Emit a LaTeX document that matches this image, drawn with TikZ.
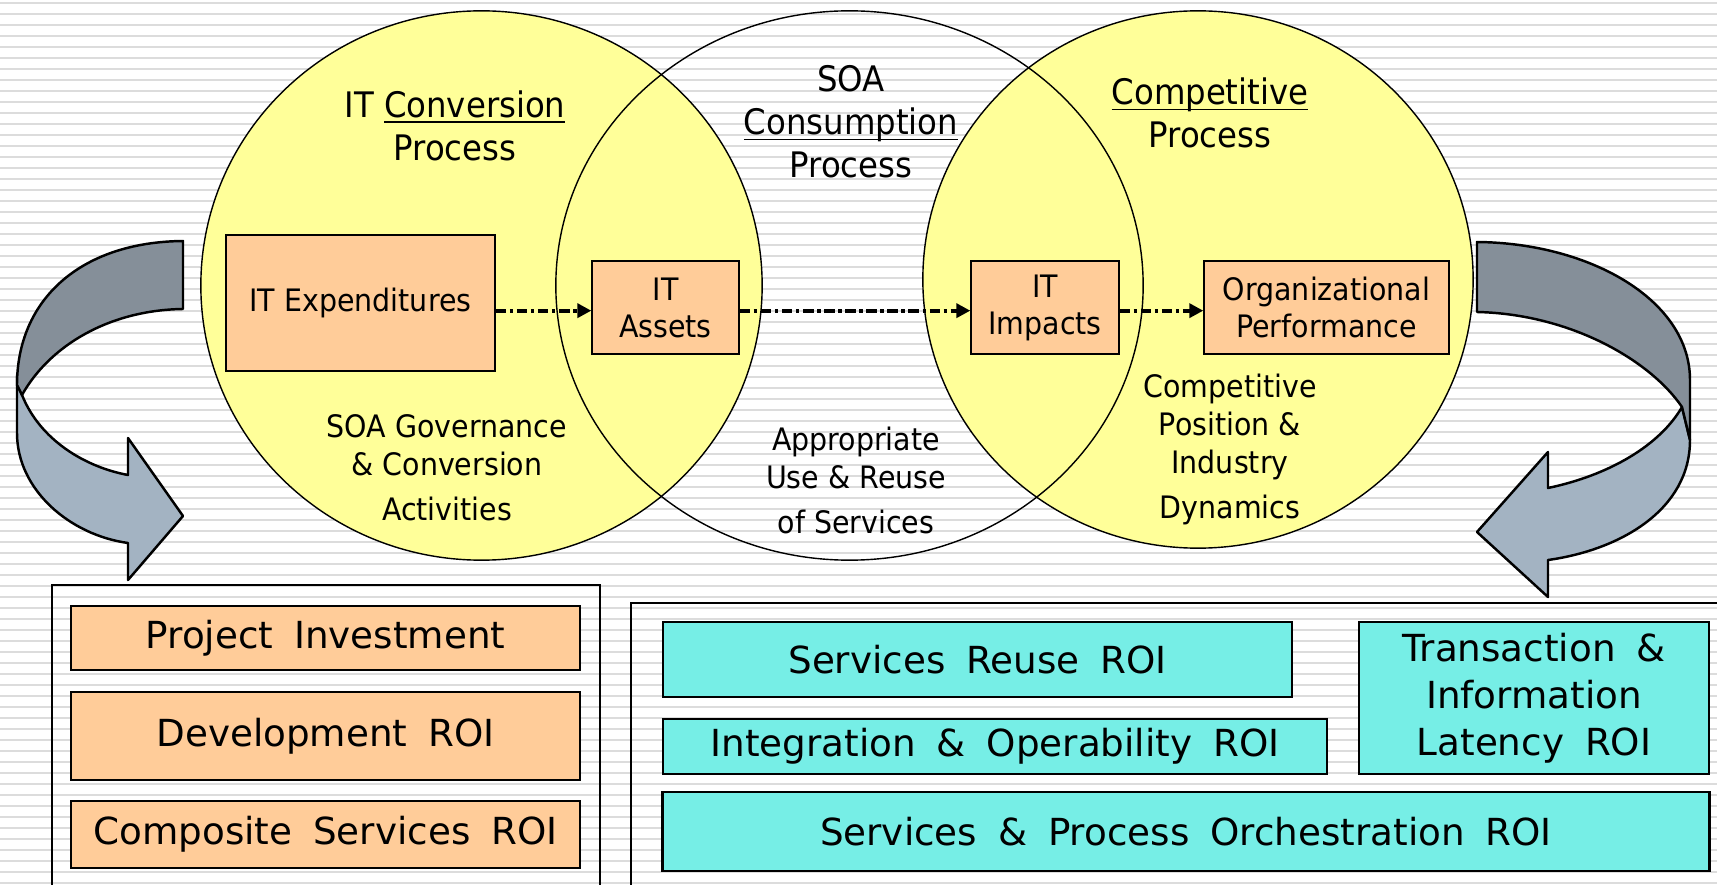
\documentclass[tikz,border=0pt]{standalone}
\usepackage{fontspec}
\usepackage{xcolor}
\usepackage{tikz}
\usetikzlibrary{arrows.meta}

\setmainfont{DejaVu Sans}
\newfontfamily\narrowfont[FakeStretch=0.92]{DejaVu Sans}

\definecolor{venn}{RGB}{255,255,153}
\definecolor{peach}{RGB}{255,204,153}
\definecolor{aqua}{RGB}{118,238,230}
\definecolor{ruling}{RGB}{220,220,220}
\definecolor{ribbondark}{RGB}{133,143,153}
\definecolor{ribbonlight}{RGB}{163,179,194}

\newcommand{\titlefont}{\narrowfont\fontsize{10}{12.2}\selectfont}
\newcommand{\boxfont}{\narrowfont\fontsize{8.8}{10.5}\selectfont}
\newcommand{\notefont}{\narrowfont\fontsize{8.8}{10.8}\selectfont}
\newcommand{\roifont}{\fontsize{10.6}{13.4}\selectfont\spaceskip=0.56em\relax}
% underline close to the baseline, ignoring descenders
\newcommand{\keyword}[1]{\underline{\smash{#1}}}

\begin{document}
\begin{tikzpicture}[x=0.01cm,y=-0.01cm,
    vennline/.style={draw=black,line width=0.4pt},
    item/.style={draw=black,fill=peach,line width=0.35pt,inner sep=0pt,align=center,font=\boxfont},
    roi/.style={draw=black,line width=0.7pt,inner sep=0pt,align=center,font=\roifont},
    panel/.style={draw=black,line width=0.7pt},
    flow/.style={line width=1.05pt,dash pattern=on 3pt off 1pt on 1pt off 1pt,
      -{Triangle[length=4pt,width=4pt]}},
    ribbon/.style={draw=black,line width=0.7pt,line join=round},
    words/.style={align=center,inner sep=0pt}]

  % ruled paper
  \useasboundingbox (0,0) rectangle (1717,885);
  \clip (0,0) rectangle (1717,885);
  \fill[white] (0,0) rectangle (1717,885);
  \foreach \k in {0,...,80}
    \fill[ruling] (0,{1.8+11*\k}) rectangle (1717,{3.6+11*\k});

  % three process circles, the middle one left open
  \fill[venn] (481.5,285.5) ellipse [x radius=2.805cm, y radius=2.745cm];
  \fill[venn] (1198,279.5) ellipse [x radius=2.75cm, y radius=2.685cm];
  \draw[vennline] (481.5,285.5) ellipse [x radius=2.805cm, y radius=2.745cm];
  \draw[vennline] (849.5,285.5) ellipse [x radius=2.935cm, y radius=2.745cm];
  \draw[vennline] (1198,279.5) ellipse [x radius=2.75cm, y radius=2.685cm];

  \node[words,font=\titlefont] (conv) at (455,126) {IT \keyword{Conversion}\\Process};
  \node[words,font=\titlefont] (consume) at (851,122) {SOA\\\keyword{Consumption}\\Process};
  \node[words,font=\titlefont] (compete) at (1210,126) {\keyword{Competitive}\\Process};

  % value chain
  \node[item,minimum width=2.69cm,minimum height=1.36cm] (spend) at (360.5,303) {IT Expenditures};
  \node[item,minimum width=1.47cm,minimum height=0.93cm] (assets) at (665.5,307.5) {IT\\Assets};
  \node[item,minimum width=1.48cm,minimum height=0.93cm] (impacts) at (1045,307.5) {IT\\Impacts};
  \node[item,minimum width=2.45cm,minimum height=0.93cm] (perf) at (1326.5,307.5) {Organizational\\Performance};

  \draw[flow] ([yshift=-0.9pt]spend.east |- assets.west) -- ([yshift=-0.9pt]assets.west);
  \draw[flow] ([yshift=-0.9pt]assets.east) -- ([yshift=-0.9pt]impacts.west);
  \draw[flow] ([yshift=-0.9pt]impacts.east) -- ([yshift=-0.9pt]perf.west);

  \node[words,font=\notefont] (govern) at (447,468) {SOA Governance\\\& Conversion\\[2pt]Activities};
  \node[words,font=\notefont] (usage) at (856,480) {Appropriate\\Use \& Reuse\\[2pt]of Services};
  \node[words,font=\notefont] (position) at (1230,449) {Competitive\\Position \&\\Industry\\[2pt]Dynamics};

  % twisted arrows down to the ROI panels
  \filldraw[ribbon,fill=ribbonlight] (17,375) -- (17,433) .. controls (17,490) and (70,535) .. (128,543)
    -- (128,580) -- (183,516) -- (128,438) -- (128,475) .. controls (85,467) and (40,440) .. (22,395) -- cycle;
  \filldraw[ribbon,fill=ribbondark] (183,241) .. controls (80,242) and (17,300) .. (17,385)
    -- (22,395) .. controls (50,345) and (110,310) .. (183,309) -- cycle;
  \filldraw[ribbon,fill=ribbonlight] (1682,407) -- (1690,440) .. controls (1690,510) and (1620,550) .. (1548,560)
    -- (1548,597) -- (1477,532) -- (1548,452) -- (1548,488) .. controls (1610,475) and (1660,445) .. (1682,407) -- cycle;
  \filldraw[ribbon,fill=ribbondark] (1477,242) .. controls (1590,243) and (1690,300) .. (1690,380)
    -- (1690,440) -- (1682,407) .. controls (1650,360) and (1570,314) .. (1477,312) -- cycle;

  % ROI panels
  \draw[panel] (52,585) rectangle (600,900);
  \draw[panel] (631,603) rectangle (1730,900);

  \node[roi,fill=peach,minimum width=5.09cm,minimum height=0.64cm] (invest) at (325.5,638) {Project Investment};
  \node[roi,fill=peach,minimum width=5.09cm,minimum height=0.88cm] (devroi) at (325.5,736) {Development ROI};
  \node[roi,fill=peach,minimum width=5.09cm,minimum height=0.67cm] (comproi) at (325.5,834.5) {Composite Services ROI};

  \node[roi,fill=aqua,minimum width=6.29cm,minimum height=0.75cm] (reuseroi) at (977.5,659.5) {Services Reuse ROI};
  \node[roi,fill=aqua,minimum width=6.64cm,minimum height=0.55cm] (integroi) at (995,746.5) {Integration \& Operability ROI};
  \node[roi,fill=aqua,minimum width=10.46cm,minimum height=0.79cm] (orchroi) at (1186,831.5) {Services \& Process Orchestration ROI};
  \node[roi,fill=aqua,minimum width=3.50cm,minimum height=1.52cm] (latroi) at (1534,698) {Transaction \&\\Information\\Latency ROI};
\end{tikzpicture}
\end{document}
